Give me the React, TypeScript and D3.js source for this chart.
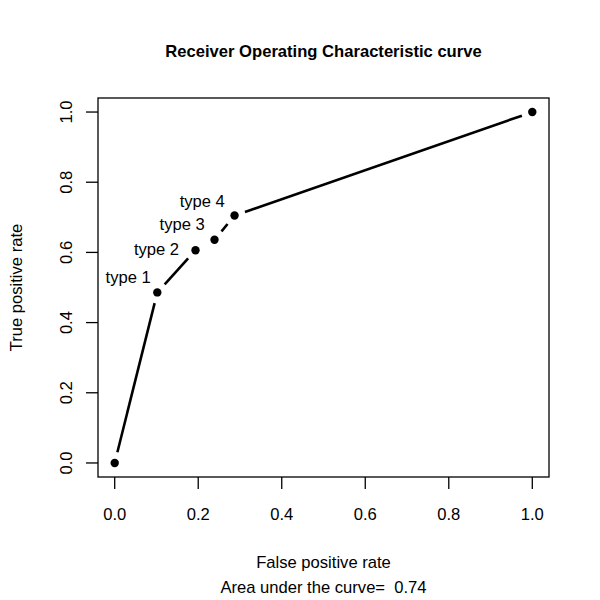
import React from 'react'
import * as d3 from 'd3'

// ROC points (false positive rate, true positive rate)
const fpr = [0, 0.102, 0.1935, 0.239, 0.287, 1]
const tpr = [0, 0.486, 0.606, 0.636, 0.705, 1]

// point labels, anchored at their right end in data units
const labels = ['type 1', 'type 2', 'type 3', 'type 4']
const labelX = [0.0863, 0.1542, 0.2158, 0.2638]
const labelY = [0.528, 0.608, 0.679, 0.745]

const ticks = [0, 0.2, 0.4, 0.6, 0.8, 1]
const auc = 0.74

const W = 600
const H = 600
const box = { left: 98, right: 549, top: 98, bottom: 477 }
const font = '"Liberation Sans", Arial, Helvetica, sans-serif'
const fs = 16.6
const gap = 11

export default function App() {
    // R style 4% padding around the data range
    const padX = (box.right - box.left) * 0.04 / 1.08
    const padY = (box.bottom - box.top) * 0.04 / 1.08
    const x = d3.scaleLinear().domain([0, 1]).range([box.left + padX, box.right - padX])
    const y = d3.scaleLinear().domain([0, 1]).range([box.bottom - padY, box.top + padY])

    const pts = fpr.map((f, i) => [x(f), y(tpr[i])])

    // type="b": segments leave a gap around each point
    const segs = []
    for (let i = 0; i < pts.length - 1; i++) {
        const [x0, y0] = pts[i]
        const [x1, y1] = pts[i + 1]
        const len = Math.hypot(x1 - x0, y1 - y0)
        if (len <= 2 * gap) continue
        const ux = (x1 - x0) / len
        const uy = (y1 - y0) / len
        segs.push([x0 + ux * gap, y0 + uy * gap, x1 - ux * gap, y1 - uy * gap])
    }

    const line = d3.line()

    return (
        <svg width={W} height={H} style={{ position: 'absolute', left: 0, top: 0, background: '#fff' }}
            fontFamily={font}>
            <rect x={0} y={0} width={W} height={H} fill="#fff" />
            <text x={(box.left + box.right) / 2} y={56.5} textAnchor="middle" fontWeight="bold" fontSize={fs}>
                Receiver Operating Characteristic curve
            </text>

            <rect x={box.left} y={box.top} width={box.right - box.left} height={box.bottom - box.top}
                fill="none" stroke="#000" strokeWidth={1.3} />

            {/* x axis */}
            {ticks.map((t) => (
                <g key={'x' + t}>
                    <line x1={x(t)} x2={x(t)} y1={box.bottom} y2={box.bottom + 12} stroke="#000" strokeWidth={1.3} />
                    <text x={x(t)} y={520} textAnchor="middle" fontSize={fs}>{d3.format('.1f')(t)}</text>
                </g>
            ))}

            {/* y axis */}
            {ticks.map((t) => (
                <g key={'y' + t}>
                    <line x1={box.left - 12} x2={box.left} y1={y(t)} y2={y(t)} stroke="#000" strokeWidth={1.3} />
                    <text transform={`translate(72,${y(t)}) rotate(-90)`} textAnchor="middle" fontSize={fs}>
                        {d3.format('.1f')(t)}
                    </text>
                </g>
            ))}

            <text x={(box.left + box.right) / 2} y={568} textAnchor="middle" fontSize={fs}>False positive rate</text>
            <text x={(box.left + box.right) / 2} y={593} textAnchor="middle" fontSize={fs} style={{ whiteSpace: 'pre' }}>
                {'Area under the curve=  ' + auc}
            </text>
            <text transform={`translate(22,${(box.top + box.bottom) / 2}) rotate(-90)`} textAnchor="middle" fontSize={fs}>
                True positive rate
            </text>

            {segs.map((s, i) => (
                <path key={'s' + i} d={line([[s[0], s[1]], [s[2], s[3]]])} stroke="#000" strokeWidth={2.6} fill="none" />
            ))}
            {pts.map((p, i) => (
                <circle key={'p' + i} cx={p[0]} cy={p[1]} r={4.2} fill="#000" />
            ))}

            {labels.map((l, i) => (
                <text key={l} x={x(labelX[i])} y={y(labelY[i])} dy="0.35em" textAnchor="end" fontSize={fs}>{l}</text>
            ))}
        </svg>
    )
}
